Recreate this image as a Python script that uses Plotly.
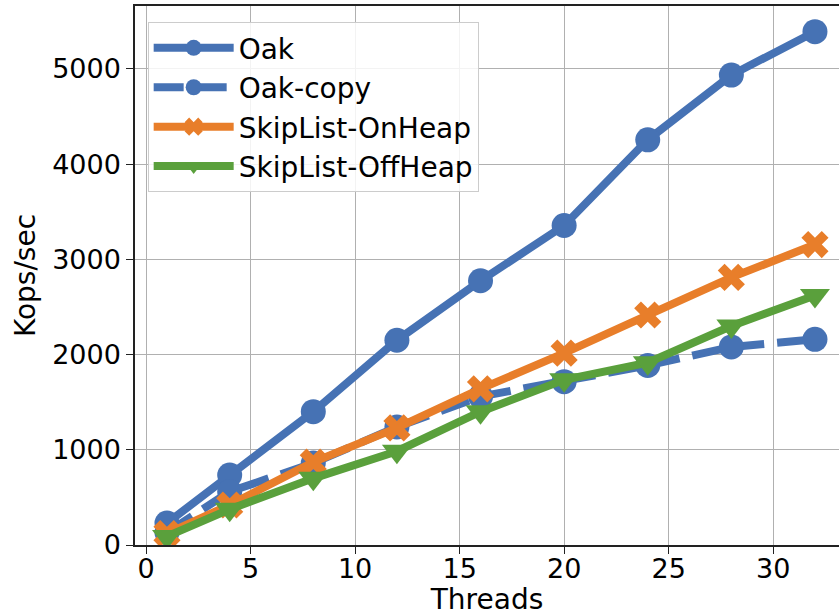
import plotly.graph_objects as go

threads = [1, 4, 8, 12, 16, 20, 24, 28, 32]
oak = [230, 735, 1400, 2150, 2775, 3355, 4255, 4935, 5390]
oak_copy = [130, 560, 860, 1240, 1560, 1715, 1885, 2080, 2160]
skiplist_onheap = [120, 420, 870, 1230, 1640, 2015, 2415, 2810, 3155]
skiplist_offheap = [90, 375, 700, 985, 1400, 1735, 1915, 2300, 2620]

names = ["Oak", "Oak-copy", "SkipList-OnHeap", "SkipList-OffHeap"]
BLUE = "#4672b4"
ORANGE = "#e87e2a"
GREEN = "#5aa03c"

fig = go.Figure()
fig.add_trace(go.Scatter(x=threads, y=oak, name=names[0], mode="lines+markers",
                         line=dict(color=BLUE, width=8),
                         marker=dict(symbol="circle", size=25, color=BLUE)))
fig.add_trace(go.Scatter(x=threads, y=oak_copy, name=names[1], mode="lines+markers",
                         line=dict(color=BLUE, width=8, dash="30px,13px"),
                         marker=dict(symbol="circle", size=25, color=BLUE)))
fig.add_trace(go.Scatter(x=threads, y=skiplist_onheap, name=names[2], mode="lines+markers",
                         line=dict(color=ORANGE, width=8),
                         marker=dict(symbol="x", size=24, color=ORANGE, line=dict(width=0))))
fig.add_trace(go.Scatter(x=threads, y=skiplist_offheap, name=names[3], mode="lines+markers",
                         line=dict(color=GREEN, width=8),
                         marker=dict(symbol="triangle-down", size=26, color=GREEN, line=dict(width=0))))

font = "DejaVu Sans"
fig.update_layout(
    width=839, height=616,
    margin=dict(l=135, r=0, t=6, b=71),
    paper_bgcolor="white", plot_bgcolor="white",
    font=dict(family=font, size=27, color="black"),
    showlegend=True,
    legend=dict(x=0.018, y=0.97, xanchor="left", yanchor="top",
                bgcolor="rgba(255,255,255,0.85)", bordercolor="#cccccc", borderwidth=1,
                font=dict(family=font, size=28, color="black"),
                tracegroupgap=0, itemwidth=80, itemsizing="trace"),
    xaxis=dict(range=[-0.53, 33.15], tickvals=[0, 5, 10, 15, 20, 25, 30],
               showgrid=True, gridcolor="#b0b0b0", gridwidth=1,
               showline=True, linecolor="#222222", linewidth=1.5, mirror=True,
               ticks="outside", ticklen=7, tickcolor="#222222", zeroline=False,
               tickfont=dict(size=27), automargin=False, ticklabelstandoff=-8,
               title=dict(text="Threads", font=dict(size=28), standoff=0)),
    yaxis=dict(range=[0, 5660], tickvals=[0, 1000, 2000, 3000, 4000, 5000],
               showgrid=True, gridcolor="#b0b0b0", gridwidth=1,
               showline=True, linecolor="#222222", linewidth=1.5,
               ticks="outside", ticklen=7, tickcolor="#222222", zeroline=False,
               tickfont=dict(size=27), automargin=False,
               title=dict(text="Kops/sec", font=dict(size=28), standoff=8)),
)

fig.write_html("out.html", config={"displayModeBar": False},
               post_script="document.body.style.margin='0';document.body.style.padding='0';")
